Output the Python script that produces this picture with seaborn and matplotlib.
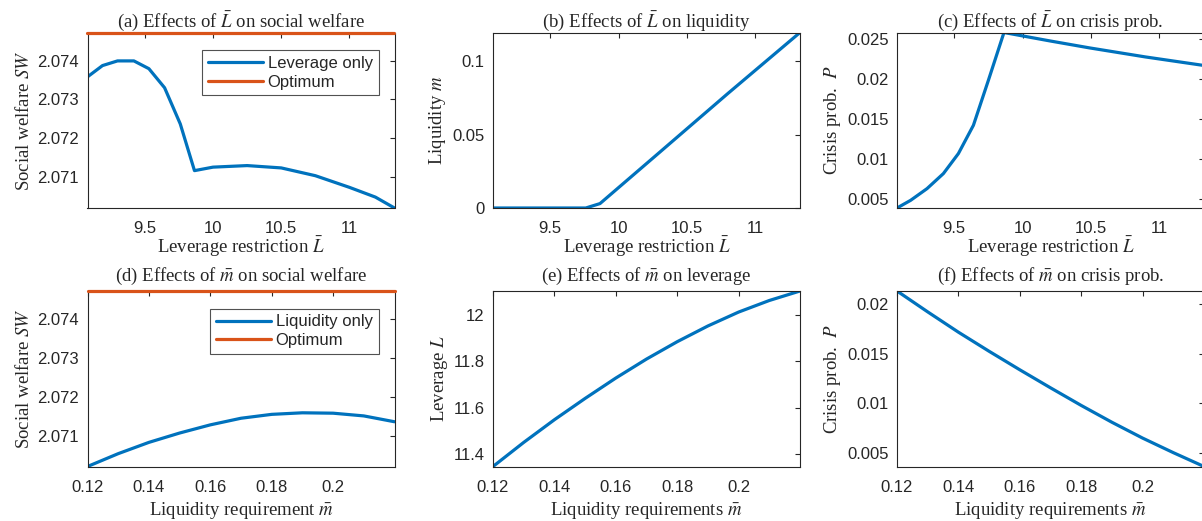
import numpy as np
import pandas as pd
import matplotlib
matplotlib.use("Agg")
import matplotlib.pyplot as plt
import seaborn as sns

# ---------------- data ----------------
# Panel (a): social welfare vs leverage restriction
lev_a = [9.08, 9.19, 9.30, 9.42, 9.53, 9.645, 9.76, 9.864, 10.00, 10.25,
         10.50, 10.75, 11.00, 11.19, 11.33]
sw_a = [2.07358, 2.07387, 2.07399, 2.07399, 2.07379, 2.07330, 2.07237, 2.07117,
        2.07126, 2.07130, 2.07124, 2.07104, 2.07074, 2.07049, 2.07021]
sw_optimum = 2.07472

# Panel (b): liquidity vs leverage restriction
lev_b = [9.08, 9.20, 9.30, 9.40, 9.50, 9.60, 9.70, 9.76, 9.864, 10.30, 10.80, 11.33]
liq_b = [0.0, 0.0, 0.0, 0.0, 0.0, 0.0, 0.0, 0.0, 0.003, 0.0378, 0.0778, 0.1194]

# Panel (c): crisis probability vs leverage restriction
lev_c = [9.08, 9.18, 9.30, 9.42, 9.53, 9.64, 9.75, 9.864, 10.20, 10.49, 10.90, 11.33]
cp_c = [0.00383, 0.00479, 0.00625, 0.00813, 0.01063, 0.01416, 0.01979, 0.02575,
        0.02470, 0.02383, 0.02270, 0.02163]

# Panel (d): social welfare vs liquidity requirement
mreq = [0.12, 0.13, 0.14, 0.15, 0.16, 0.17, 0.18, 0.19, 0.20, 0.21, 0.22]
sw_d = [2.07021, 2.07054, 2.07083, 2.07107, 2.07128, 2.07145, 2.07155, 2.07159,
        2.07158, 2.07151, 2.07136]

# Panel (e): leverage vs liquidity requirement
lev_e = [11.346, 11.450, 11.548, 11.640, 11.728, 11.810, 11.885, 11.953, 12.013,
         12.063, 12.104]

# Panel (f): crisis probability vs liquidity requirement
cp_f = [0.02136, 0.01925, 0.01720, 0.01527, 0.01340, 0.01158, 0.00980, 0.00810,
        0.00650, 0.00503, 0.00363]

titles = [r"(a) Effects of $\bar{L}$ on social welfare",
          r"(b) Effects of $\bar{L}$ on liquidity",
          r"(c) Effects of $\bar{L}$ on crisis prob.",
          r"(d) Effects of $\bar{m}$ on social welfare",
          r"(e) Effects of $\bar{m}$ on leverage",
          r"(f) Effects of $\bar{m}$ on crisis prob."]

# ---------------- style ----------------
sns.set_theme(style="white")
plt.rcParams["font.family"] = ["Liberation Sans", "DejaVu Sans"]
plt.rcParams["mathtext.fontset"] = "stix"

BLUE = "#0072BD"
ORANGE = "#D95319"
TXT = "#262626"
LW = 2.3

W, H = 1202, 521
fig = plt.figure(figsize=(W / 100, H / 100), dpi=100)
fig.patch.set_facecolor("white")

lefts = [87.5, 493.0, 897.0]
width = 307.0
tops = [32.5, 291.0]
height = 175.5


def make_ax(r, c):
    l = lefts[c]
    t = tops[r]
    return fig.add_axes([l / W, (H - t - height) / H, width / W, height / H])


serif = {"family": ["Liberation Serif", "DejaVu Serif"], "size": 13.5, "color": TXT}


def style(ax, row, title, xlabel, ylabel):
    ax.set_title(title, fontdict=serif, pad=4 if row == 0 else 7)
    ax.set_xlabel(xlabel, fontdict=serif, labelpad=-1.5 if row == 0 else 4)
    ax.set_ylabel(ylabel, fontdict=serif, labelpad=3)
    ax.tick_params(direction="in", length=3.5, width=0.8, top=True, right=True,
                   labelsize=12, colors=TXT)
    ax.tick_params(axis="x", pad=9.5)
    ax.tick_params(axis="y", pad=6)
    for s in ax.spines.values():
        s.set_color(TXT)
        s.set_linewidth(0.8)
        s.set_visible(True)
    ax.set_facecolor("white")


def line(ax, x, y, color, label=None, clip=True):
    df = pd.DataFrame({"x": x, "y": y})
    sns.lineplot(data=df, x="x", y="y", ax=ax, color=color, linewidth=LW,
                 sort=False, estimator=None, label=label)
    ln = ax.lines[-1]
    ln.set_clip_on(clip)
    if not clip:
        ln.set_zorder(5)


def legend(ax):
    leg = ax.legend(loc="upper right", bbox_to_anchor=(0.948, 0.9), frameon=True,
                    fancybox=False, edgecolor="#262626", fontsize=12,
                    handlelength=3.3, handletextpad=0.3, borderpad=0.35,
                    labelspacing=0.22, borderaxespad=0)
    leg.get_frame().set_linewidth(0.8)


xlim_L = (9.08, 11.33)
xlim_m = (0.12, 0.22)

# (a)
ax = make_ax(0, 0)
line(ax, lev_a, sw_a, BLUE, "Leverage only")
line(ax, [lev_a[0], lev_a[-1]], [sw_optimum, sw_optimum], ORANGE, "Optimum", clip=False)
ax.set_xlim(*xlim_L)
ax.set_ylim(2.07021, sw_optimum)
ax.set_xticks([9.5, 10, 10.5, 11])
ax.set_xticklabels(["9.5", "10", "10.5", "11"])
ax.set_yticks([2.071, 2.072, 2.073, 2.074])
ax.set_yticklabels(["2.071", "2.072", "2.073", "2.074"])
style(ax, 0, titles[0], r"Leverage restriction $\bar{L}$", r"Social welfare $SW$")
legend(ax)

# (b)
ax = make_ax(0, 1)
line(ax, lev_b, liq_b, BLUE)
ax.set_xlim(*xlim_L)
ax.set_ylim(0, 0.1194)
ax.set_xticks([9.5, 10, 10.5, 11])
ax.set_xticklabels(["9.5", "10", "10.5", "11"])
ax.set_yticks([0, 0.05, 0.1])
ax.set_yticklabels(["0", "0.05", "0.1"])
style(ax, 0, titles[1], r"Leverage restriction $\bar{L}$", r"Liquidity $m$")

# (c)
ax = make_ax(0, 2)
line(ax, lev_c, cp_c, BLUE)
ax.set_xlim(*xlim_L)
ax.set_ylim(0.00383, 0.02575)
ax.set_xticks([9.5, 10, 10.5, 11])
ax.set_xticklabels(["9.5", "10", "10.5", "11"])
ax.set_yticks([0.005, 0.01, 0.015, 0.02, 0.025])
ax.set_yticklabels(["0.005", "0.01", "0.015", "0.02", "0.025"])
style(ax, 0, titles[2], r"Leverage restriction $\bar{L}$", r"Crisis prob.  $P$")

# (d)
ax = make_ax(1, 0)
line(ax, mreq, sw_d, BLUE, "Liquidity only")
line(ax, [mreq[0], mreq[-1]], [sw_optimum, sw_optimum], ORANGE, "Optimum", clip=False)
ax.set_xlim(*xlim_m)
ax.set_ylim(2.07021, sw_optimum)
ax.set_xticks([0.12, 0.14, 0.16, 0.18, 0.2])
ax.set_xticklabels(["0.12", "0.14", "0.16", "0.18", "0.2"])
ax.set_yticks([2.071, 2.072, 2.073, 2.074])
ax.set_yticklabels(["2.071", "2.072", "2.073", "2.074"])
style(ax, 1, titles[3], r"Liquidity requirement $\bar{m}$", r"Social welfare $SW$")
legend(ax)

# (e)
ax = make_ax(1, 1)
line(ax, mreq, lev_e, BLUE)
ax.set_xlim(*xlim_m)
ax.set_ylim(11.346, 12.104)
ax.set_xticks([0.12, 0.14, 0.16, 0.18, 0.2])
ax.set_xticklabels(["0.12", "0.14", "0.16", "0.18", "0.2"])
ax.set_yticks([11.4, 11.6, 11.8, 12.0])
ax.set_yticklabels(["11.4", "11.6", "11.8", "12"])
style(ax, 1, titles[4], r"Liquidity requirements $\bar{m}$", r"Leverage $L$")

# (f)
ax = make_ax(1, 2)
line(ax, mreq, cp_f, BLUE)
ax.set_xlim(*xlim_m)
ax.set_ylim(0.00363, 0.02136)
ax.set_xticks([0.12, 0.14, 0.16, 0.18, 0.2])
ax.set_xticklabels(["0.12", "0.14", "0.16", "0.18", "0.2"])
ax.set_yticks([0.005, 0.01, 0.015, 0.02])
ax.set_yticklabels(["0.005", "0.01", "0.015", "0.02"])
style(ax, 1, titles[5], r"Liquidity requirements $\bar{m}$", r"Crisis prob.  $P$")

fig.savefig("out.png", dpi=100, facecolor="white")
